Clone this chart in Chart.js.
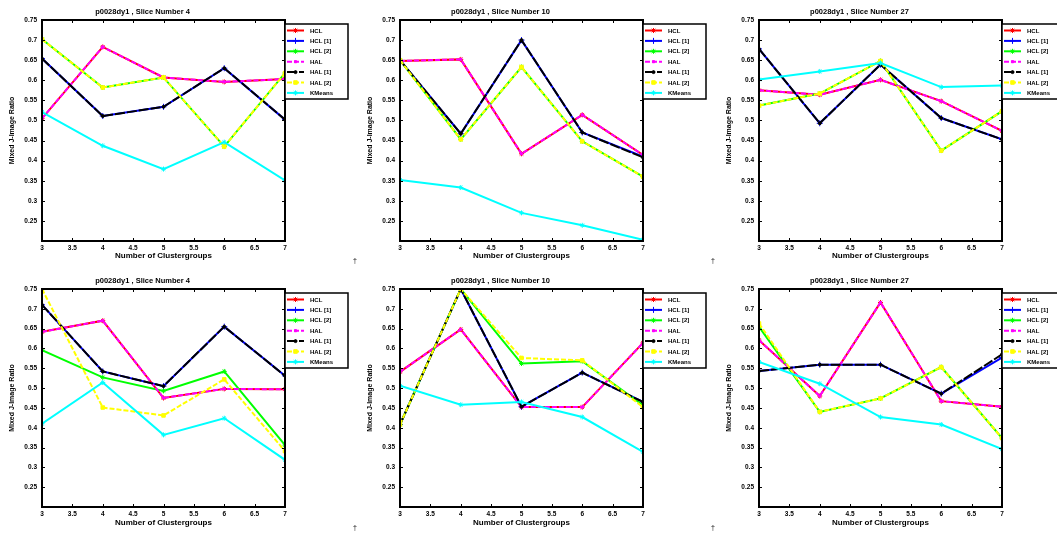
<!DOCTYPE html>
<html>
<head>
<meta charset="utf-8">
<title>Mixed J-Image Ratio per slice</title>
<script src="https://cdn.jsdelivr.net/npm/chart.js@4.4.1/dist/chart.umd.min.js"></script>
<style>
  html, body { margin: 0; padding: 0; background: #fff; }
  body { width: 1057px; height: 534px; overflow: hidden; position: relative; }
  canvas { position: absolute; }
</style>
</head>
<body>
<script>
// number of clustergroups on the x axis
const xValues = [3, 4, 5, 6, 7];
const xTicks = [3, 3.5, 4, 4.5, 5, 5.5, 6, 6.5, 7];
const yTicks = [0.2, 0.25, 0.3, 0.35, 0.4, 0.45, 0.5, 0.55, 0.6, 0.65, 0.7, 0.75];

// one panel per slice, top row then bottom row
const panelTitles = [
  "p0028dy1 , Slice Number 4", "p0028dy1 , Slice Number 10", "p0028dy1 , Slice Number 27",
  "p0028dy1 , Slice Number 4", "p0028dy1 , Slice Number 10", "p0028dy1 , Slice Number 27"
];
const seriesNames = ["HCL", "HCL [1]", "HCL [2]", "HAL", "HAL [1]", "HAL [2]", "KMeans"];

// ratio values, one row per panel
const hcl = [
  [0.505, 0.683, 0.607, 0.596, 0.603],
  [0.648, 0.652, 0.417, 0.514, 0.414],
  [0.575, 0.564, 0.601, 0.548, 0.474],
  [0.642, 0.670, 0.475, 0.498, 0.497],
  [0.541, 0.648, 0.452, 0.452, 0.614],
  [0.621, 0.480, 0.716, 0.467, 0.453]
];
const hcl1 = [
  [0.654, 0.511, 0.534, 0.630, 0.502],
  [0.650, 0.467, 0.700, 0.470, 0.410],
  [0.678, 0.493, 0.639, 0.506, 0.453],
  [0.710, 0.542, 0.505, 0.655, 0.531],
  [0.408, 0.750, 0.453, 0.539, 0.465],
  [0.543, 0.559, 0.559, 0.486, 0.577]
];
const hcl2 = [
  [0.702, 0.582, 0.607, 0.435, 0.618],
  [0.650, 0.453, 0.633, 0.448, 0.360],
  [0.537, 0.567, 0.648, 0.425, 0.523],
  [0.596, 0.527, 0.493, 0.542, 0.356],
  [0.408, 0.750, 0.562, 0.568, 0.457],
  [0.655, 0.440, 0.474, 0.553, 0.374]
];
const hal = [
  [0.505, 0.683, 0.607, 0.596, 0.603],
  [0.648, 0.652, 0.417, 0.514, 0.414],
  [0.575, 0.564, 0.601, 0.548, 0.474],
  [0.642, 0.670, 0.475, 0.498, 0.497],
  [0.541, 0.648, 0.452, 0.452, 0.614],
  [0.621, 0.480, 0.716, 0.467, 0.453]
];
const hal1 = [
  [0.654, 0.511, 0.534, 0.630, 0.502],
  [0.650, 0.467, 0.700, 0.470, 0.408],
  [0.678, 0.493, 0.639, 0.506, 0.453],
  [0.710, 0.542, 0.505, 0.655, 0.531],
  [0.408, 0.750, 0.453, 0.539, 0.465],
  [0.543, 0.559, 0.559, 0.486, 0.585]
];
const hal2 = [
  [0.702, 0.582, 0.607, 0.435, 0.618],
  [0.650, 0.453, 0.633, 0.448, 0.360],
  [0.537, 0.567, 0.648, 0.425, 0.523],
  [0.750, 0.451, 0.431, 0.522, 0.341],
  [0.408, 0.750, 0.576, 0.570, 0.452],
  [0.663, 0.440, 0.474, 0.553, 0.374]
];
const kmeans = [
  [0.521, 0.437, 0.379, 0.446, 0.351],
  [0.352, 0.333, 0.270, 0.239, 0.203],
  [0.602, 0.622, 0.643, 0.583, 0.587],
  [0.410, 0.514, 0.382, 0.424, 0.319],
  [0.506, 0.458, 0.465, 0.427, 0.339],
  [0.566, 0.511, 0.427, 0.408, 0.346]
];

const seriesValues = [hcl, hcl1, hcl2, hal, hal1, hal2, kmeans];
const seriesColors = ["#ff0000", "#0000ff", "#00ff00", "#ff00ff", "#000000", "#ffff00", "#00ffff"];
const seriesDash = [[], [], [], [5, 2], [10, 2], [5, 2], []];
const seriesMarker = ["star", "cross", "star", "rect", "circle", "rect", "star"];
const markerSize = [2.5, 3, 2.5, 1.5, 1.5, 2.5, 2.5];

const FONT = "'Liberation Sans', Arial, sans-serif";

// matlab-like box with inward ticks, plus the boxed legend on the right edge
const frameAndLegend = {
  id: "frameAndLegend",
  afterDatasetsDraw(chart) {
    const { ctx, chartArea: a, scales: { x, y } } = chart;
    const tl = 3;
    ctx.save();
    ctx.strokeStyle = "#000";
    ctx.lineWidth = 1;
    ctx.beginPath();
    for (const t of x.ticks) {
      const px = Math.round(x.getPixelForValue(t.value)) + 0.5;
      ctx.moveTo(px, a.bottom); ctx.lineTo(px, a.bottom - tl);
      ctx.moveTo(px, a.top); ctx.lineTo(px, a.top + tl);
    }
    for (const t of y.ticks) {
      const py = Math.round(y.getPixelForValue(t.value)) + 0.5;
      ctx.moveTo(a.left, py); ctx.lineTo(a.left + tl, py);
      ctx.moveTo(a.right, py); ctx.lineTo(a.right - tl, py);
    }
    ctx.stroke();
    ctx.lineWidth = 2;
    ctx.strokeRect(a.left, a.top, a.right - a.left, a.bottom - a.top);
    ctx.restore();
  },
  afterDraw(chart) {
    const { ctx, chartArea: a } = chart;
    const left = a.right, top = a.top + 4, w = 63, h = 75;
    ctx.save();
    ctx.fillStyle = "#fff";
    ctx.fillRect(left, top, w, h);
    ctx.strokeStyle = "#000";
    ctx.lineWidth = 1.5;
    ctx.strokeRect(left, top, w, h);
    chart.data.datasets.forEach((ds, i) => {
      const yy = top + 6.5 + i * 10.4;
      ctx.strokeStyle = ds.borderColor;
      ctx.lineWidth = 2;
      ctx.setLineDash(ds.borderDash);
      ctx.beginPath();
      ctx.moveTo(left + 2, yy);
      ctx.lineTo(left + 19, yy);
      ctx.stroke();
      ctx.setLineDash([]);
      ctx.fillStyle = ds.borderColor;
      ctx.lineWidth = 1;
      Chart.helpers.drawPoint(ctx, {
        pointStyle: ds.pointStyle, rotation: 0,
        radius: ds.pointRadius, borderWidth: 1
      }, left + 10.5, yy);
      ctx.fillStyle = "#000";
      ctx.font = "bold 6px " + FONT;
      ctx.textBaseline = "middle";
      ctx.textAlign = "left";
      ctx.fillText(seriesNames[i], left + 25, yy + 0.5);
    });
    // small dagger under the legend corner
    ctx.fillStyle = "#000";
    ctx.font = "7px " + FONT;
    ctx.fillText("\u2020", 353, chart.height - 6);
    ctx.restore();
  }
};

function makePanel(p) {
  const col = p % 3, row = Math.floor(p / 3);
  const canvas = document.createElement("canvas");
  const height = row === 0 ? 267 : 265;
  canvas.width = 358;
  canvas.height = height;
  canvas.style.left = [0, 358, 717][col] + "px";
  canvas.style.top = (row === 0 ? 0 : 269) + "px";
  document.body.appendChild(canvas);

  const datasets = seriesNames.map((name, i) => ({
    label: name,
    data: xValues.map((xv, k) => ({ x: xv, y: seriesValues[i][p][k] })),
    borderColor: seriesColors[i],
    backgroundColor: seriesColors[i],
    pointBackgroundColor: seriesColors[i],
    pointBorderColor: seriesColors[i],
    borderDash: seriesDash[i],
    borderWidth: 2,
    pointStyle: seriesMarker[i],
    pointRadius: markerSize[i],
    pointBorderWidth: 1,
    tension: 0,
    order: seriesNames.length - i
  }));

  new Chart(canvas, {
    type: "line",
    data: { datasets },
    plugins: [frameAndLegend],
    options: {
      responsive: false,
      animation: false,
      events: [],
      layout: { padding: { left: 0, right: 73, top: 0, bottom: 0 } },
      plugins: {
        legend: { display: false },
        tooltip: { enabled: false },
        title: {
          display: true,
          text: panelTitles[p],
          color: "#000",
          font: { family: FONT, size: 7.5, weight: "bold" },
          padding: { top: 7, bottom: 4 }
        }
      },
      scales: {
        x: {
          type: "linear",
          min: 3, max: 7,
          afterBuildTicks: (s) => { s.ticks = xTicks.map(v => ({ value: v })); },
          afterFit: (s) => { s.height = row === 0 ? 26 : 27; },
          grid: { display: false, drawTicks: false },
          border: { display: false },
          ticks: {
            padding: 3,
            color: "#000",
            font: { family: FONT, size: 6.5, weight: "bold" },
            maxRotation: 0,
            autoSkip: false,
            callback: (v) => String(v)
          },
          title: {
            display: true,
            text: "Number of Clustergroups",
            color: "#000",
            font: { family: FONT, size: 8, weight: "bold" },
            padding: { top: 0, bottom: 6 }
          }
        },
        y: {
          min: 0.2, max: 0.75,
          afterBuildTicks: (s) => { s.ticks = yTicks.map(v => ({ value: v })); },
          afterFit: (s) => { s.width = 42; },
          grid: { display: false, drawTicks: false },
          border: { display: false },
          ticks: {
            padding: 5,
            color: "#000",
            font: { family: FONT, size: 6.5, weight: "bold" },
            autoSkip: false,
            callback: (v) => (v < 0.21 ? "" : String(+v.toFixed(2)))
          },
          title: {
            display: true,
            text: "Mixed J-Image Ratio",
            color: "#000",
            font: { family: FONT, size: 7, weight: "bold" },
            padding: { top: 8, bottom: 0 }
          }
        }
      }
    }
  });
}

for (let p = 0; p < panelTitles.length; p++) makePanel(p);
</script>
</body>
</html>
